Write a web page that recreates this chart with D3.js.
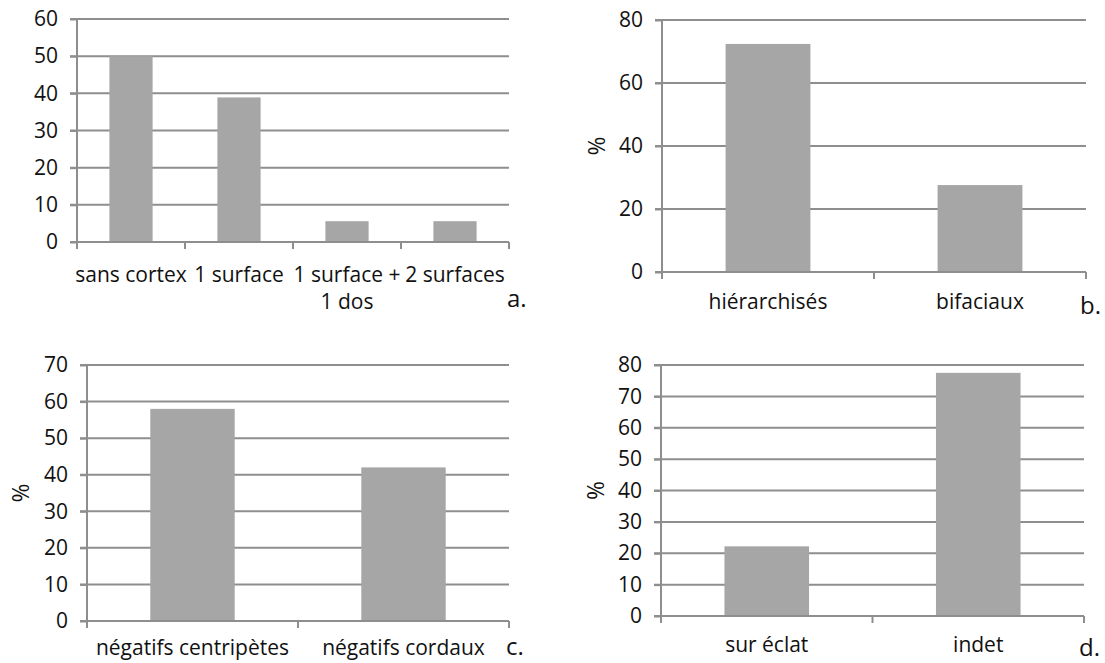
<!DOCTYPE html>
<html>
<head>
<meta charset="utf-8">
<script src="https://cdn.jsdelivr.net/npm/d3@7"></script>
<style>
  html, body { margin: 0; padding: 0; background: #fff; }
  svg { display: block; }
  text { font-family: "Open Sans", "Noto Sans", sans-serif; fill: #111; }
</style>
</head>
<body>
<svg id="chart" width="1105" height="663"></svg>
<script>
// ---- data ----
const catsA = ["sans cortex", "1 surface", "1 surface +\n1 dos", "2 surfaces"];
const valsA = [50, 38.9, 5.6, 5.6];
const ticksA = [0, 10, 20, 30, 40, 50, 60];

const catsB = ["hiérarchisés", "bifaciaux"];
const valsB = [72.4, 27.6];
const ticksB = [0, 20, 40, 60, 80];

const catsC = ["négatifs centripètes", "négatifs cordaux"];
const valsC = [58.0, 42.0];
const ticksC = [0, 10, 20, 30, 40, 50, 60, 70];

const catsD = ["sur éclat", "indet"];
const valsD = [22.2, 77.5];
const ticksD = [0, 10, 20, 30, 40, 50, 60, 70, 80];

const yTitle = "%";

// ---- layout ----
const panels = [
  { cats: catsA, vals: valsA, ticks: ticksA, x0: 77, x1: 509, y0: 242, yTop: 19, labDy: 40, title: null, tag: "a.", tagX: 507, tagY: 307 },
  { cats: catsB, vals: valsB, ticks: ticksB, x0: 662, x1: 1086, y0: 272, yTop: 20, labDy: 37, title: yTitle, titleX: 597, tag: "b.", tagX: 1080, tagY: 314 },
  { cats: catsC, vals: valsC, ticks: ticksC, x0: 87, x1: 509, y0: 621, yTop: 365, labDy: 34, title: yTitle, titleX: 21, tag: "c.", tagX: 506, tagY: 655 },
  { cats: catsD, vals: valsD, ticks: ticksD, x0: 661, x1: 1084, y0: 616, yTop: 365, labDy: 36, title: yTitle, titleX: 596, tag: "d.", tagX: 1079, tagY: 656 }
];

const svg = d3.select("#chart");
const gridColor = "#8e8e8e";
const barColor = "#a6a6a6";
const fontSize = 21;
const tickLen = 7;

panels.forEach(p => {
  const g = svg.append("g");
  const maxT = d3.max(p.ticks);
  const y = d3.scaleLinear().domain([0, maxT]).range([p.y0, p.yTop]);
  const x = d3.scaleBand().domain(p.cats).range([p.x0, p.x1]).paddingInner(0).paddingOuter(0);

  // gridlines
  g.append("g").selectAll("line").data(p.ticks).join("line")
    .attr("x1", p.x0 - tickLen).attr("x2", p.x1)
    .attr("y1", d => y(d)).attr("y2", d => y(d))
    .attr("stroke", gridColor).attr("stroke-width", 2);

  // bars
  const bw = x.bandwidth() * 0.4;
  g.append("g").selectAll("rect").data(p.cats).join("rect")
    .attr("x", d => x(d) + (x.bandwidth() - bw) / 2)
    .attr("width", bw)
    .attr("y", (d, i) => y(p.vals[i]))
    .attr("height", (d, i) => y(0) - y(p.vals[i]))
    .attr("fill", barColor);

  // y axis
  const ya = d3.axisLeft(y).tickValues(p.ticks).tickSize(tickLen).tickPadding(12).tickFormat(d3.format("d"));
  const yg = g.append("g").attr("transform", `translate(${p.x0},0)`).call(ya);
  yg.select(".domain").remove();
  yg.selectAll(".tick line").attr("stroke", gridColor).attr("stroke-width", 2);
  yg.selectAll(".tick text").attr("font-size", fontSize).attr("font-family", "Open Sans").attr("fill", "#111");
  g.append("line").attr("x1", p.x0).attr("x2", p.x0).attr("y1", p.yTop).attr("y2", p.y0 + tickLen)
    .attr("stroke", gridColor).attr("stroke-width", 2);

  // x axis line + category ticks
  g.append("line").attr("x1", p.x0).attr("x2", p.x1).attr("y1", p.y0).attr("y2", p.y0)
    .attr("stroke", gridColor).attr("stroke-width", 2);
  const edges = p.cats.map(c => x(c)).concat([p.x1]);
  g.append("g").selectAll("line").data(edges).join("line")
    .attr("x1", d => d).attr("x2", d => d)
    .attr("y1", p.y0).attr("y2", p.y0 + tickLen)
    .attr("stroke", gridColor).attr("stroke-width", 2);

  // category labels
  const lab = g.append("g").selectAll("text").data(p.cats).join("text")
    .attr("text-anchor", "middle")
    .attr("font-size", fontSize)
    .attr("x", d => x(d) + x.bandwidth() / 2)
    .attr("y", p.y0 + p.labDy);
  lab.each(function(d) {
    const lines = d.split("\n");
    const t = d3.select(this);
    lines.forEach((ln, i) => {
      t.append("tspan").attr("x", x(d) + x.bandwidth() / 2).attr("dy", i === 0 ? 0 : 27).text(ln);
    });
  });

  // y title
  if (p.title) {
    const cy = (p.y0 + p.yTop) / 2;
    g.append("text")
      .attr("transform", `translate(${p.titleX + 8},${cy}) rotate(-90)`)
      .attr("text-anchor", "middle")
      .attr("font-size", 23)
      .text(p.title);
  }

  // panel tag
  g.append("text").attr("x", p.tagX).attr("y", p.tagY)
    .attr("font-size", 24).text(p.tag);
});
</script>
</body>
</html>
